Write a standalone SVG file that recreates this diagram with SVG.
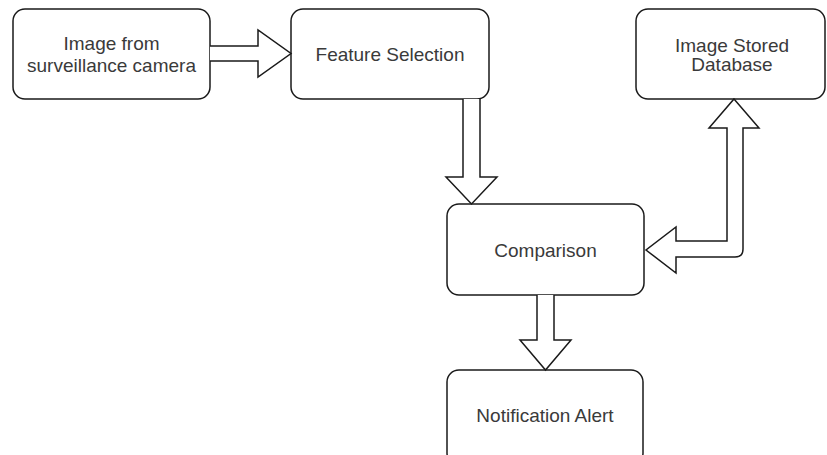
<svg xmlns="http://www.w3.org/2000/svg" width="827" height="455" viewBox="0 0 827 455">
<style>
.box{fill:#fff;stroke:#1a1a1a;stroke-width:1.5}
.lbl{font-family:"Liberation Sans",Arial,sans-serif;font-size:19px;fill:#3a3a3a;text-anchor:middle}
.arr{fill:#fff;stroke:#1a1a1a;stroke-width:1.5;stroke-linejoin:miter}
</style>
<rect width="827" height="455" fill="#fff"/>
<g id="node-camera">
<rect class="box" x="13" y="9" width="197" height="90" rx="12"/>
<text class="lbl" x="111.5" y="50">Image from</text>
<text class="lbl" x="111.5" y="72">surveillance camera</text>
</g>
<g id="node-feature">
<rect class="box" x="291" y="9" width="198" height="90" rx="12"/>
<text class="lbl" x="390" y="61">Feature Selection</text>
</g>
<g id="node-database">
<rect class="box" x="636" y="9" width="189" height="90" rx="12"/>
<text class="lbl" x="732" y="52">Image Stored</text>
<text class="lbl" x="732" y="71">Database</text>
</g>
<g id="node-comparison">
<rect class="box" x="447" y="204" width="197" height="91" rx="12"/>
<text class="lbl" x="545.5" y="257">Comparison</text>
</g>
<g id="node-alert">
<rect class="box" x="447" y="370" width="196" height="95" rx="12"/>
<text class="lbl" x="545" y="422">Notification Alert</text>
</g>
<g id="connectors">
<path class="arr" d="M210,46 L258,46 L258,30 L291,53.5 L258,77 L258,61 L210,61"/>
<path class="arr" d="M463,99 L463,177 L446,177 L471.5,204 L497,177 L480,177 L480,99"/>
<path class="arr" d="M734,99 L759,128 L743,128 L743,249 Q743,257 735,257 L676,257 L676,273 L646,250 L676,227 L676,241 L727,241 L727,128 L709,128 Z"/>
<path class="arr" d="M537,295 L537,340 L520,340 L545.5,370 L571,340 L554,340 L554,295"/>
</g>
</svg>
